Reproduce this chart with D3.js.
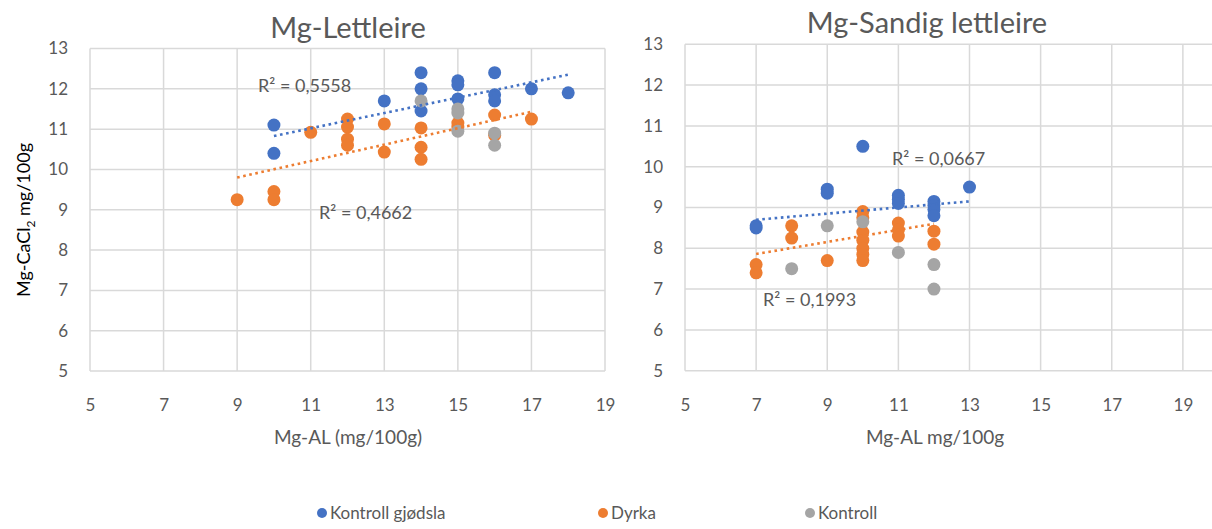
<!DOCTYPE html>
<html>
<head>
<meta charset="utf-8">
<script src="https://cdn.jsdelivr.net/npm/d3@7/dist/d3.min.js"></script>
<style>
  html, body { margin: 0; padding: 0; background: #fff; }
  svg { display: block; font-family: Lato, "Open Sans", sans-serif; }
</style>
</head>
<body>
<svg id="chart" width="1212" height="529"></svg>
<script>
// Series names and colours
const seriesNames = ["Kontroll gjødsla", "Dyrka", "Kontroll"];
const seriesColors = ["#4472C4", "#ED7D31", "#A5A5A5"];

// Axis ticks
const xTicks = [5, 7, 9, 11, 13, 15, 17, 19];
const yTicks = [5, 6, 7, 8, 9, 10, 11, 12, 13];

// Mg-Lettleire: [Mg-AL, Mg-CaCl2]
const lettGjodsla = [[10, 11.1], [10, 10.4], [13, 11.7], [14, 12.4], [14, 12.0], [14, 11.45],
  [15, 12.2], [15, 12.1], [15, 11.75], [16, 12.4], [16, 11.85], [16, 11.7], [17, 12.0], [18, 11.9]];
const lettDyrka = [[9, 9.25], [10, 9.45], [10, 9.25], [11, 10.92], [12, 11.25], [12, 11.05],
  [12, 10.75], [12, 10.6], [13, 11.13], [13, 10.43], [14, 11.03], [14, 10.55], [14, 10.25],
  [15, 11.15], [15, 11.05], [16, 11.35], [16, 10.85], [17, 11.25]];
const lettKontroll = [[14, 11.7], [15, 11.5], [15, 11.4], [15, 10.95], [16, 10.9], [16, 10.6]];

// Mg-Sandig lettleire: [Mg-AL, Mg-CaCl2]
const sandGjodsla = [[7, 8.55], [7, 8.5], [9, 9.45], [9, 9.35], [10, 10.5], [11, 9.3], [11, 9.2],
  [11, 9.1], [12, 9.15], [12, 9.05], [12, 8.95], [12, 8.8], [13, 9.5]];
const sandDyrka = [[7, 7.6], [7, 7.4], [8, 8.55], [8, 8.25], [9, 7.7], [10, 8.9], [10, 8.75],
  [10, 8.4], [10, 8.2], [10, 8.0], [10, 7.85], [10, 7.7], [11, 8.62], [11, 8.45], [11, 8.3],
  [12, 8.42], [12, 8.1]];
const sandKontroll = [[8, 7.5], [9, 8.55], [10, 8.65], [11, 7.9], [12, 7.6], [12, 7.0]];

// Linear trend lines (endpoints in data units) and their R² labels
const lettTrendGjodsla = [[10, 10.83], [18, 12.35]];
const lettTrendDyrka = [[9, 9.8], [17, 11.43]];
const sandTrendGjodsla = [[7, 8.7], [13, 9.15]];
const sandTrendDyrka = [[7, 7.86], [12, 8.6]];
const lettR2 = ["R² = 0,5558", "R² = 0,4662"];
const sandR2 = ["R² = 0,0667", "R² = 0,1993"];

const svg = d3.select("#chart");
const textColor = "#595959";
const gridColor = "#D9D9D9";

const panels = [
  {
    title: "Mg-Lettleire", xTitle: "Mg-AL (mg/100g)", yTitle: true,
    xDomain: [5, 19], xRange: [90, 605], yRange: [371, 48.5], gridEnd: 19,
    titleX: 348, titleY: 38, xTitleX: 348,
    series: [lettGjodsla, lettDyrka, lettKontroll],
    trends: [lettTrendGjodsla, lettTrendDyrka],
    r2: lettR2, r2Pos: [[258, 92], [319, 219]]
  },
  {
    // plot area runs on past the right edge of the page
    title: "Mg-Sandig lettleire", xTitle: "Mg-AL mg/100g", yTitle: false,
    xDomain: [5, 21], xRange: [685, 1254], yRange: [370.7, 44.3], gridEnd: 21,
    titleX: 927, titleY: 33, xTitleX: 935,
    series: [sandGjodsla, sandDyrka, sandKontroll],
    trends: [sandTrendGjodsla, sandTrendDyrka],
    r2: sandR2, r2Pos: [[892, 165], [763, 306]]
  }
];

panels.forEach(p => {
  const x = d3.scaleLinear().domain(p.xDomain).range(p.xRange);
  const y = d3.scaleLinear().domain([5, 13]).range(p.yRange);
  const g = svg.append("g");
  const gridX = d3.range(p.xDomain[0], p.gridEnd + 1, 2);

  // gridlines
  g.append("g").selectAll("line").data(gridX).join("line")
    .attr("x1", d => x(d)).attr("x2", d => x(d))
    .attr("y1", y(5)).attr("y2", y(13))
    .attr("stroke", gridColor).attr("stroke-width", 1.5);
  g.append("g").selectAll("line").data(yTicks).join("line")
    .attr("x1", x(p.xDomain[0])).attr("x2", x(p.xDomain[1]))
    .attr("y1", d => y(d)).attr("y2", d => y(d))
    .attr("stroke", gridColor).attr("stroke-width", 1.5);

  // axes (labels only)
  const xAxis = g.append("g").attr("transform", `translate(0,${y(5)})`)
    .call(d3.axisBottom(x).tickValues(xTicks).tickSize(0).tickPadding(28).tickFormat(d3.format("d")));
  const yAxis = g.append("g").attr("transform", `translate(${x(p.xDomain[0])},0)`)
    .call(d3.axisLeft(y).tickValues(yTicks).tickSize(0).tickPadding(22).tickFormat(d3.format("d")));
  [xAxis, yAxis].forEach(a => {
    a.select(".domain").remove();
    a.selectAll("text").attr("fill", textColor).style("font-size", "17px").style("font-family", "Lato, sans-serif");
  });

  // titles
  g.append("text").attr("x", p.titleX).attr("y", p.titleY).attr("text-anchor", "middle")
    .attr("fill", textColor).style("font-size", "29px").text(p.title);
  g.append("text").attr("x", p.xTitleX).attr("y", 444).attr("text-anchor", "middle")
    .attr("fill", textColor).style("font-size", "19px").text(p.xTitle);
  if (p.yTitle) {
    const t = g.append("text").attr("transform", "translate(30,220) rotate(-90)")
      .attr("text-anchor", "middle").attr("fill", "#000").style("font-size", "18px");
    t.append("tspan").text("Mg-CaCl");
    t.append("tspan").attr("dy", 5).style("font-size", "12px").text("2");
    t.append("tspan").attr("dy", -5).text(" mg/100g");
  }

  // points: series drawn in order, later ones on top
  p.series.forEach((data, i) => {
    g.append("g").selectAll("circle").data(data).join("circle")
      .attr("cx", d => x(d[0])).attr("cy", d => y(d[1])).attr("r", 6.5)
      .attr("fill", seriesColors[i]);
  });

  // dotted trend lines
  const line = d3.line().x(d => x(d[0])).y(d => y(d[1]));
  p.trends.forEach((data, i) => {
    g.append("path").attr("d", line(data)).attr("fill", "none")
      .attr("stroke", seriesColors[i]).attr("stroke-width", 2.6)
      .attr("stroke-dasharray", "2.6 3.6");
  });

  // R² labels
  p.r2.forEach((label, i) => {
    g.append("text").attr("x", p.r2Pos[i][0]).attr("y", p.r2Pos[i][1])
      .attr("fill", textColor).style("font-size", "18px").text(label);
  });
});

// legend
const legendX = [322, 603, 810];
const legend = svg.append("g").selectAll("g").data(seriesNames).join("g")
  .attr("transform", (d, i) => `translate(${legendX[i]},513)`);
legend.append("circle").attr("r", 5).attr("fill", (d, i) => seriesColors[i]);
legend.append("text").attr("x", 8).attr("y", 6).attr("fill", textColor)
  .style("font-size", "17px").text(d => d);
</script>
</body>
</html>
